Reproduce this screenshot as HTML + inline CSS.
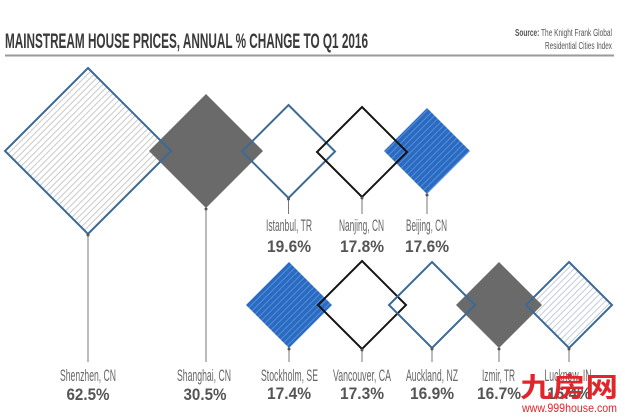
<!DOCTYPE html>
<html><head><meta charset="utf-8"><style>
html,body{margin:0;padding:0;background:#fff;}
svg{display:block;}
</style></head><body>
<svg width="625" height="417" viewBox="0 0 625 417" xmlns="http://www.w3.org/2000/svg">
<defs>
<pattern id="pg" width="4.5" height="4.5" patternUnits="userSpaceOnUse" patternTransform="rotate(-45)">
<line x1="0" y1="2" x2="4.5" y2="2" stroke="#c9c9c9" stroke-width="1"/>
</pattern>
<pattern id="pl" width="4.5" height="4.5" patternUnits="userSpaceOnUse" patternTransform="rotate(-45)">
<line x1="0" y1="2" x2="4.5" y2="2" stroke="#c2ccd8" stroke-width="1"/>
</pattern>
<pattern id="pb" width="4.5" height="4.5" patternUnits="userSpaceOnUse" patternTransform="rotate(-45)">
<rect width="4.5" height="4.5" fill="#2a6bc2"/>
<line x1="0" y1="2" x2="4.5" y2="2" stroke="#6a9be0" stroke-width="0.7"/>
</pattern>
</defs>
<rect width="625" height="417" fill="#fff"/>

<!-- header -->
<text x="5" y="48" font-family="Liberation Sans, sans-serif" font-size="21" font-weight="bold" fill="#3a3a3a" textLength="363" lengthAdjust="spacingAndGlyphs">MAINSTREAM HOUSE PRICES, ANNUAL % CHANGE TO Q1 2016</text>
<text x="612" y="36" text-anchor="end" font-family="Liberation Sans, sans-serif" font-size="10" fill="#555" textLength="97" lengthAdjust="spacingAndGlyphs"><tspan font-weight="bold">Source:</tspan> The Knight Frank Global</text>
<text x="612" y="49" text-anchor="end" font-family="Liberation Sans, sans-serif" font-size="10" fill="#555" textLength="67" lengthAdjust="spacingAndGlyphs">Residential Cities Index</text>
<line x1="5" y1="55.5" x2="614" y2="55.5" stroke="#9a9a9a" stroke-width="2"/>

<!-- striped fills -->
<polygon points="88,68 171,151 88,234 5,151" fill="url(#pg)"/>
<polygon points="569,262 612,305 569,348 526,305" fill="url(#pl)"/>
<polygon points="427,108 470,151 427,194 384,151" fill="url(#pb)"/>
<polygon points="289,262 332,305 289,348 246,305" fill="url(#pb)"/>
<!-- grey fills -->
<polygon points="206,94 263,151 206,208 149,151" fill="#6a6a6a"/>
<polygon points="499,262 542,305 499,348 456,305" fill="#6a6a6a"/>

<!-- outlines -->
<g fill="none" stroke-width="2" stroke-linejoin="miter">
<polygon points="88,68 171,151 88,234 5,151" stroke="#3b6a96"/>
<polygon points="288.5,105 335,151.5 288.5,198 242,151.5" stroke="#3b6a96"/>
<polygon points="362,107 407,152 362,197 317,152" stroke="#151515"/>
<polygon points="362,261 406,305 362,349 318,305" stroke="#151515"/>
<polygon points="432,262 475,305 432,348 389,305" stroke="#3b6a96"/>
<polygon points="569,262 612,305 569,348 526,305" stroke="#3b6a96"/>
</g>

<!-- leader lines -->
<g stroke="#777" stroke-width="1">
<line x1="88" y1="234" x2="88" y2="362"/>
<line x1="206" y1="208" x2="206" y2="362"/>
<line x1="288.5" y1="198" x2="288.5" y2="214"/>
<line x1="362" y1="197" x2="362" y2="214"/>
<line x1="427" y1="194" x2="427" y2="214"/>
<line x1="289" y1="348" x2="289" y2="362"/>
<line x1="362" y1="349" x2="362" y2="362"/>
<line x1="432" y1="348" x2="432" y2="362"/>
<line x1="499" y1="348" x2="499" y2="362"/>
<line x1="569" y1="348" x2="569" y2="362"/>
</g>
<g fill="#555">
<circle cx="88" cy="235" r="1.5"/><circle cx="206" cy="209" r="1.5"/>
<circle cx="288.5" cy="199" r="1.5"/><circle cx="362" cy="198" r="1.5"/><circle cx="427" cy="195" r="1.5"/>
<circle cx="289" cy="349" r="1.5"/><circle cx="362" cy="350" r="1.5"/><circle cx="432" cy="349" r="1.5"/><circle cx="499" cy="349" r="1.5"/><circle cx="569" cy="349" r="1.5"/>
</g>

<!-- labels -->
<g font-family="Liberation Sans, sans-serif" font-size="17" fill="#666" text-anchor="middle">
<text x="88" y="381" textLength="56" lengthAdjust="spacingAndGlyphs">Shenzhen, CN</text>
<text x="204" y="381" textLength="54" lengthAdjust="spacingAndGlyphs">Shanghai, CN</text>
<text x="289" y="231" textLength="46" lengthAdjust="spacingAndGlyphs">Istanbul, TR</text>
<text x="361.5" y="231" textLength="45" lengthAdjust="spacingAndGlyphs">Nanjing, CN</text>
<text x="426.5" y="231" textLength="41" lengthAdjust="spacingAndGlyphs">Beijing, CN</text>
<text x="289.5" y="381" textLength="57" lengthAdjust="spacingAndGlyphs">Stockholm, SE</text>
<text x="362" y="381" textLength="58" lengthAdjust="spacingAndGlyphs">Vancouver, CA</text>
<text x="432" y="381" textLength="52" lengthAdjust="spacingAndGlyphs">Auckland, NZ</text>
<text x="498.5" y="381" textLength="33" lengthAdjust="spacingAndGlyphs">Izmir, TR</text>
<text x="568" y="381" textLength="47" lengthAdjust="spacingAndGlyphs">Lucknow, IN</text>
</g>
<g font-family="Liberation Sans, sans-serif" font-size="16.5" font-weight="bold" fill="#555" text-anchor="middle">
<text x="88" y="400" textLength="43" lengthAdjust="spacingAndGlyphs">62.5%</text>
<text x="205" y="400" textLength="43" lengthAdjust="spacingAndGlyphs">30.5%</text>
<text x="289" y="252" textLength="44" lengthAdjust="spacingAndGlyphs">19.6%</text>
<text x="362" y="252" textLength="44" lengthAdjust="spacingAndGlyphs">17.8%</text>
<text x="427" y="252" textLength="44" lengthAdjust="spacingAndGlyphs">17.6%</text>
<text x="289" y="399" textLength="44" lengthAdjust="spacingAndGlyphs">17.4%</text>
<text x="362" y="399" textLength="44" lengthAdjust="spacingAndGlyphs">17.3%</text>
<text x="432" y="399" textLength="44" lengthAdjust="spacingAndGlyphs">16.9%</text>
<text x="499" y="399" textLength="44" lengthAdjust="spacingAndGlyphs">16.7%</text>
<text x="569" y="399" textLength="44" lengthAdjust="spacingAndGlyphs">16.4%</text>
</g>

<!-- watermark -->
<text x="520" y="397" font-family="Liberation Sans, 'Noto Sans CJK SC', sans-serif" font-size="27" font-weight="bold" fill="#e0262b" textLength="98" lengthAdjust="spacingAndGlyphs">九房网</text>
<text x="522" y="412" font-family="Liberation Sans, sans-serif" font-size="12" fill="#e0262b" textLength="95" lengthAdjust="spacingAndGlyphs">www.999house.com</text>
</svg>
</body></html>
